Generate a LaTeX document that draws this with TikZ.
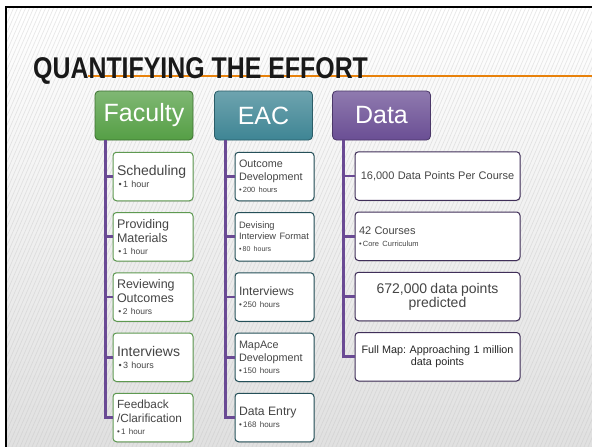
\documentclass[tikz,border=0pt]{standalone}
\usepackage{xcolor}
\usepackage{tikz}
\usepackage{fontspec}
\setmainfont{Liberation Sans}
\usetikzlibrary{shadows,trees}

\definecolor{facgreen}{HTML}{559F45}
\definecolor{eacteal}{HTML}{3E8594}
\definecolor{datapurple}{HTML}{6A4E94}
\definecolor{linkpurple}{HTML}{6A4A94}
\definecolor{ruleorange}{HTML}{E8820C}
\definecolor{boxtext}{HTML}{454545}

\begin{document}
\begin{tikzpicture}[x=1pt,y=-1pt,
      headbox/.style={draw=#1!70!black, line width=0.8pt, top color=#1!75!white,
        bottom color=#1, rounded corners=4pt, minimum width=98, minimum height=49,
        text=white, font=\fontsize{25}{27}\selectfont},
      listbox/.style={draw=#1, line width=1pt, fill=white, rounded corners=3.5pt,
        minimum height=48.5, inner sep=4pt, align=left, text=boxtext,
        drop shadow={shadow xshift=0.6pt, shadow yshift=-1pt, opacity=0.25}},
      edge from parent/.style={draw=linkpurple, line width=2.8pt},
      edge from parent path={(\tikzparentnode.south west) ++(11,0) |- (\tikzchildnode.west)}]
      \useasboundingbox (0,0) rectangle (592,447);
      % slide background
      \fill[white] (0,0) rectangle (592,447);
      \shade[top color=white, bottom color=gray!24] (6,15) rectangle (592,447);
      \begin{scope}
        \clip (6,7) rectangle (592,447);
        \foreach \s in {-200,-196,...,600}
          \draw[gray!50, line width=0.7pt, opacity=0.35] (\s,447) -- (\s+190,7);
      \end{scope}
      \draw[black, line width=2.5pt] (6,447) -- (6,7) -- (592,7);
      % title
      \draw[ruleorange, line width=2pt] (88,75.5) -- (592,75.5);
      \node[anchor=base west, inner sep=0, text=black!90,
            font=\fontsize{30}{31}\selectfont\bfseries] (title) at (33,78)
            {\scalebox{0.83}[1]{QUANTIFYING THE EFFORT}};

      % Faculty
      \begin{scope}[grow via three points={one child at (9,61) and
            two children at (9,61) and (9,121.25)}]
      \node[headbox=facgreen] (fac) at (144,115.5) {Faculty}
      child { node[listbox=facgreen!80!gray, text width=72]
          {\fontsize{14}{16}\selectfont Scheduling\endgraf
           \fontsize{9}{12}\selectfont \,\textbullet\,1 hour} }
      child { node[listbox=facgreen!80!gray, text width=72]
          {\fontsize{12.5}{14}\selectfont Providing\\Materials\endgraf
           \fontsize{8.5}{12}\selectfont \,\textbullet\,1 hour} }
      child { node[listbox=facgreen!80!gray, text width=72]
          {\fontsize{12.5}{14}\selectfont Reviewing\\Outcomes\endgraf
           \fontsize{8.5}{12}\selectfont \,\textbullet\,2 hours} }
      child { node[listbox=facgreen!80!gray, text width=72]
          {\fontsize{14}{16}\selectfont Interviews\endgraf
           \fontsize{9}{13}\selectfont \,\textbullet\,3 hours} }
      child { node[listbox=facgreen!80!gray, text width=72]
          {\fontsize{11.8}{14}\selectfont Feedback\\/Clarification\endgraf
           \fontsize{8}{11}\selectfont \textbullet\,1 hour} };
      \end{scope}

      % EAC
      \begin{scope}[grow via three points={one child at (11,61) and
            two children at (11,61) and (11,121.25)}]
      \node[headbox=eacteal] (eac) at (263.5,115.5) {EAC}
      child { node[listbox=eacteal!60!black, text width=71]
          {\fontsize{10.8}{12.5}\selectfont Outcome\\Development\endgraf
           \fontsize{7.5}{11}\selectfont \textbullet\,200 hours} }
      child { node[listbox=eacteal!60!black, text width=71]
          {\fontsize{9.3}{11}\selectfont Devising\\Interview Format\endgraf
           \fontsize{7}{10}\selectfont \textbullet\,80 hours} }
      child { node[listbox=eacteal!60!black, text width=71]
          {\fontsize{12.2}{14}\selectfont Interviews\endgraf
           \fontsize{8}{12}\selectfont \textbullet\,250 hours} }
      child { node[listbox=eacteal!60!black, text width=71]
          {\fontsize{10.8}{12.5}\selectfont MapAce\\Development\endgraf
           \fontsize{8}{11}\selectfont \textbullet\,150 hours} }
      child { node[listbox=eacteal!60!black, text width=71]
          {\fontsize{12.2}{14}\selectfont Data Entry\endgraf
           \fontsize{8}{12}\selectfont \textbullet\,168 hours} };
      \end{scope}

      % Data
      \begin{scope}[grow via three points={one child at (56,60.5) and
            two children at (56,60.5) and (56,120.75)}]
      \node[headbox=datapurple] (dat) at (381.5,115.5) {Data}
      child { node[listbox=datapurple!60!black, text width=161, inner xsep=2pt, align=center]
          {\fontsize{11}{13}\selectfont 16,000 Data Points Per Course} }
      child { node[listbox=datapurple!60!black, text width=157]
          {\fontsize{11}{13}\selectfont 42 Courses\endgraf
           \fontsize{7.5}{11}\selectfont \textbullet\,Core Curriculum} }
      child { node[listbox=datapurple!60!black, text width=161, inner xsep=2pt, align=center]
          {\fontsize{14}{15}\selectfont 672,000 data points\\predicted} }
      child { node[listbox=datapurple!60!black, text width=161, inner xsep=2pt, align=center]
          {\fontsize{10.8}{13}\selectfont\frenchspacing\color{black!85} Full Map: Approaching 1 million\\data points} };
      \end{scope}
\end{tikzpicture}
\end{document}
